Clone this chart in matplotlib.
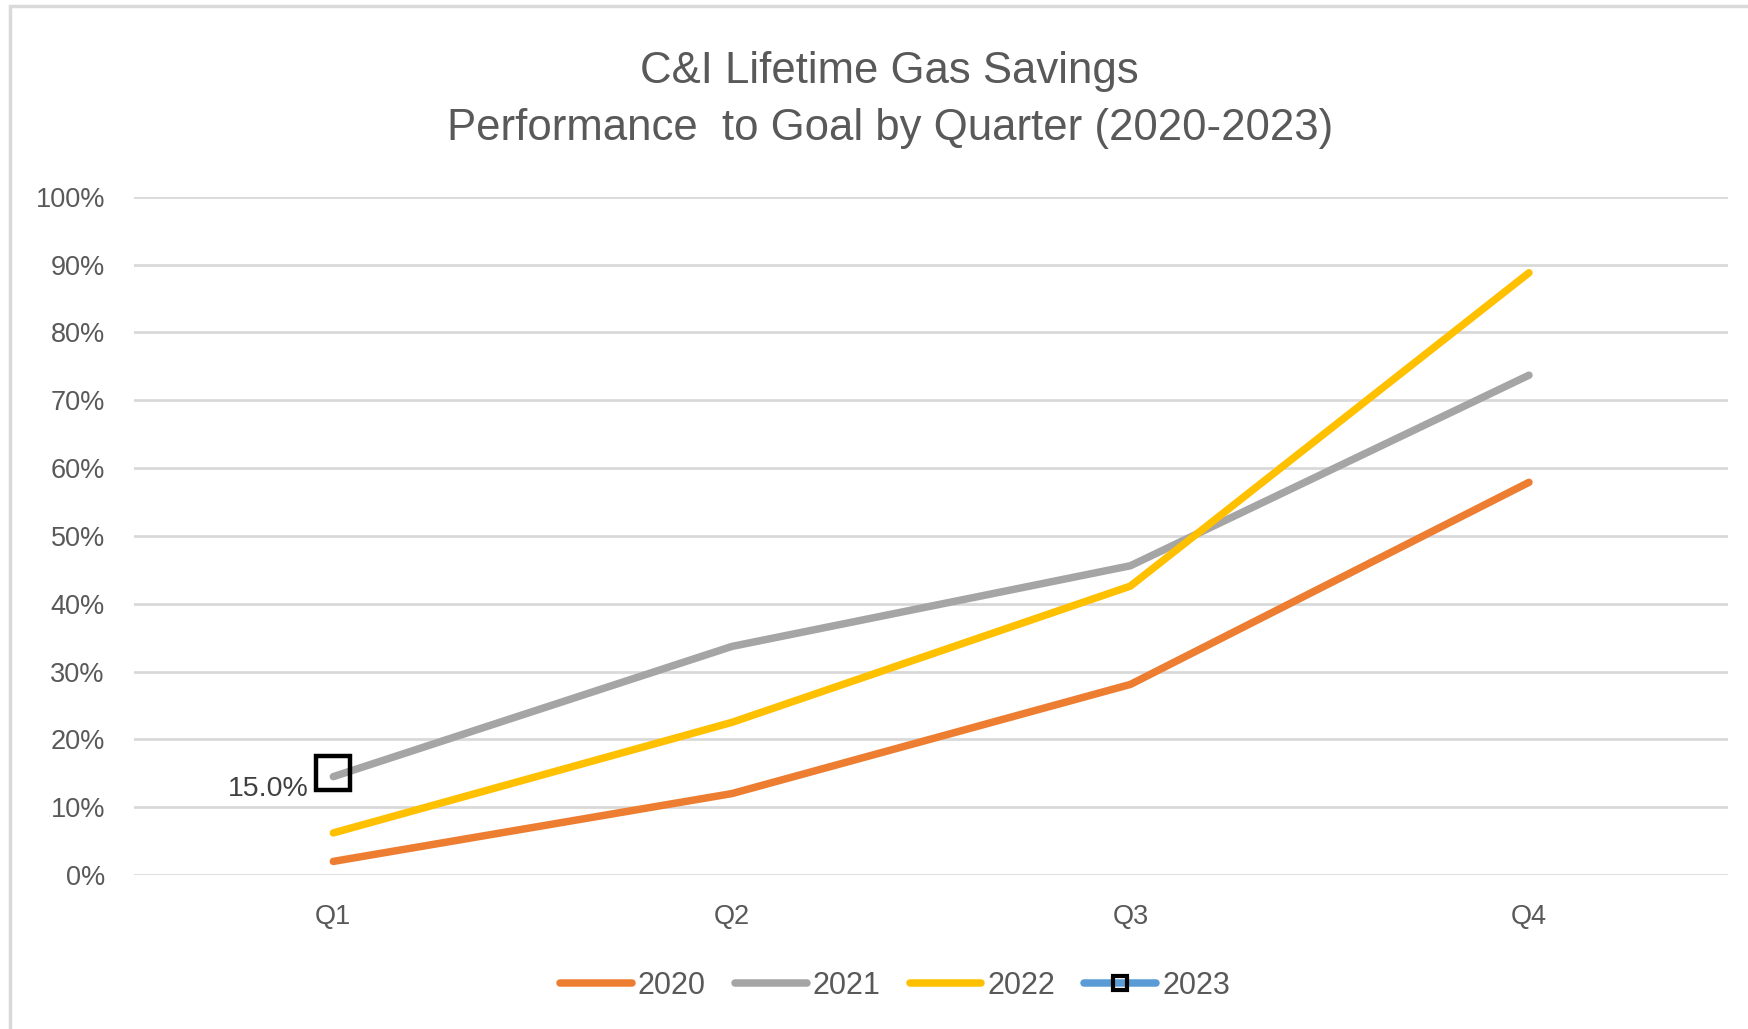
import matplotlib
matplotlib.use("Agg")
import matplotlib.pyplot as plt
from matplotlib.patches import Rectangle
from matplotlib.ticker import PercentFormatter

quarters = ["Q1", "Q2", "Q3", "Q4"]
years = ["2020", "2021", "2022", "2023"]
v2020 = [0.020, 0.120, 0.281, 0.579]
v2021 = [0.145, 0.337, 0.456, 0.737]
v2022 = [0.062, 0.225, 0.426, 0.888]
v2023 = [0.150]
series = [v2020, v2021, v2022, v2023]
colors = ["#ED7D31", "#A5A5A5", "#FFC000", "#5B9BD5"]
yticks = [0.0, 0.1, 0.2, 0.3, 0.4, 0.5, 0.6, 0.7, 0.8, 0.9, 1.0]
title_lines = ["C&I Lifetime Gas Savings", "Performance  to Goal by Quarter (2020-2023)"]

plt.rcParams['font.family'] = ['Liberation Sans', 'DejaVu Sans']
txt = "#595959"

fig = plt.figure(figsize=(17.48, 10.29), dpi=100)
fig.patches.append(Rectangle((0.006, -0.1), 1.2, 1.094, transform=fig.transFigure,
                             fill=False, edgecolor="#D9D9D9", linewidth=2.5))
ax = fig.add_axes([0.0767, 0.1497, 0.912, 0.659])

x = list(range(len(quarters)))
handles = []
for yr, vals, c in zip(years, series, colors):
    if yr == "2023":
        h, = ax.plot(x[:len(vals)], vals, color=c, lw=5.4, solid_capstyle='round',
                     marker='s', markersize=24, markerfacecolor='none',
                     markeredgecolor='black', markeredgewidth=3.2, label=yr, zorder=5)
    else:
        h, = ax.plot(x[:len(vals)], vals, color=c, lw=5.4, solid_capstyle='round',
                     solid_joinstyle='round', label=yr, zorder=3)
    handles.append(h)

ax.annotate(f"{v2023[0]*100:.1f}%", (0, v2023[0]), xytext=(-18, -11), textcoords='offset points',
            ha='right', va='center', fontsize=20.5, color="#404040")

ax.set_xlim(-0.5, 3.5)
ax.set_ylim(0, 1.0)
ax.set_yticks(yticks)
ax.yaxis.set_major_formatter(PercentFormatter(1.0, decimals=0))
ax.set_xticks(x)
ax.set_xticklabels(quarters)
ax.grid(axis='y', color="#D9D9D9", lw=2)
ax.set_axisbelow(True)
for s in ax.spines.values():
    s.set_visible(False)
ax.tick_params(axis='both', length=0, labelsize=19.5, colors=txt)
ax.tick_params(axis='y', pad=21)
ax.tick_params(axis='x', pad=21)

fig.text(0.509, 0.931, title_lines[0], ha='center', va='center', fontsize=31.5, color=txt)
fig.text(0.509, 0.875, title_lines[1], ha='center', va='center', fontsize=31.5, color=txt)

leg = fig.legend(handles=handles, loc='center', bbox_to_anchor=(0.512, 0.042), ncol=4,
                 frameon=False, fontsize=22, handlelength=2.35, handletextpad=0.2,
                 columnspacing=0.95, labelcolor=txt)
for lh in leg.get_lines():
    if lh.get_marker() == 's':
        lh.set_markersize(10)
        lh.set_markerfacecolor('none')
        lh.set_markeredgewidth(3)

fig.savefig("out.png", dpi=100)
